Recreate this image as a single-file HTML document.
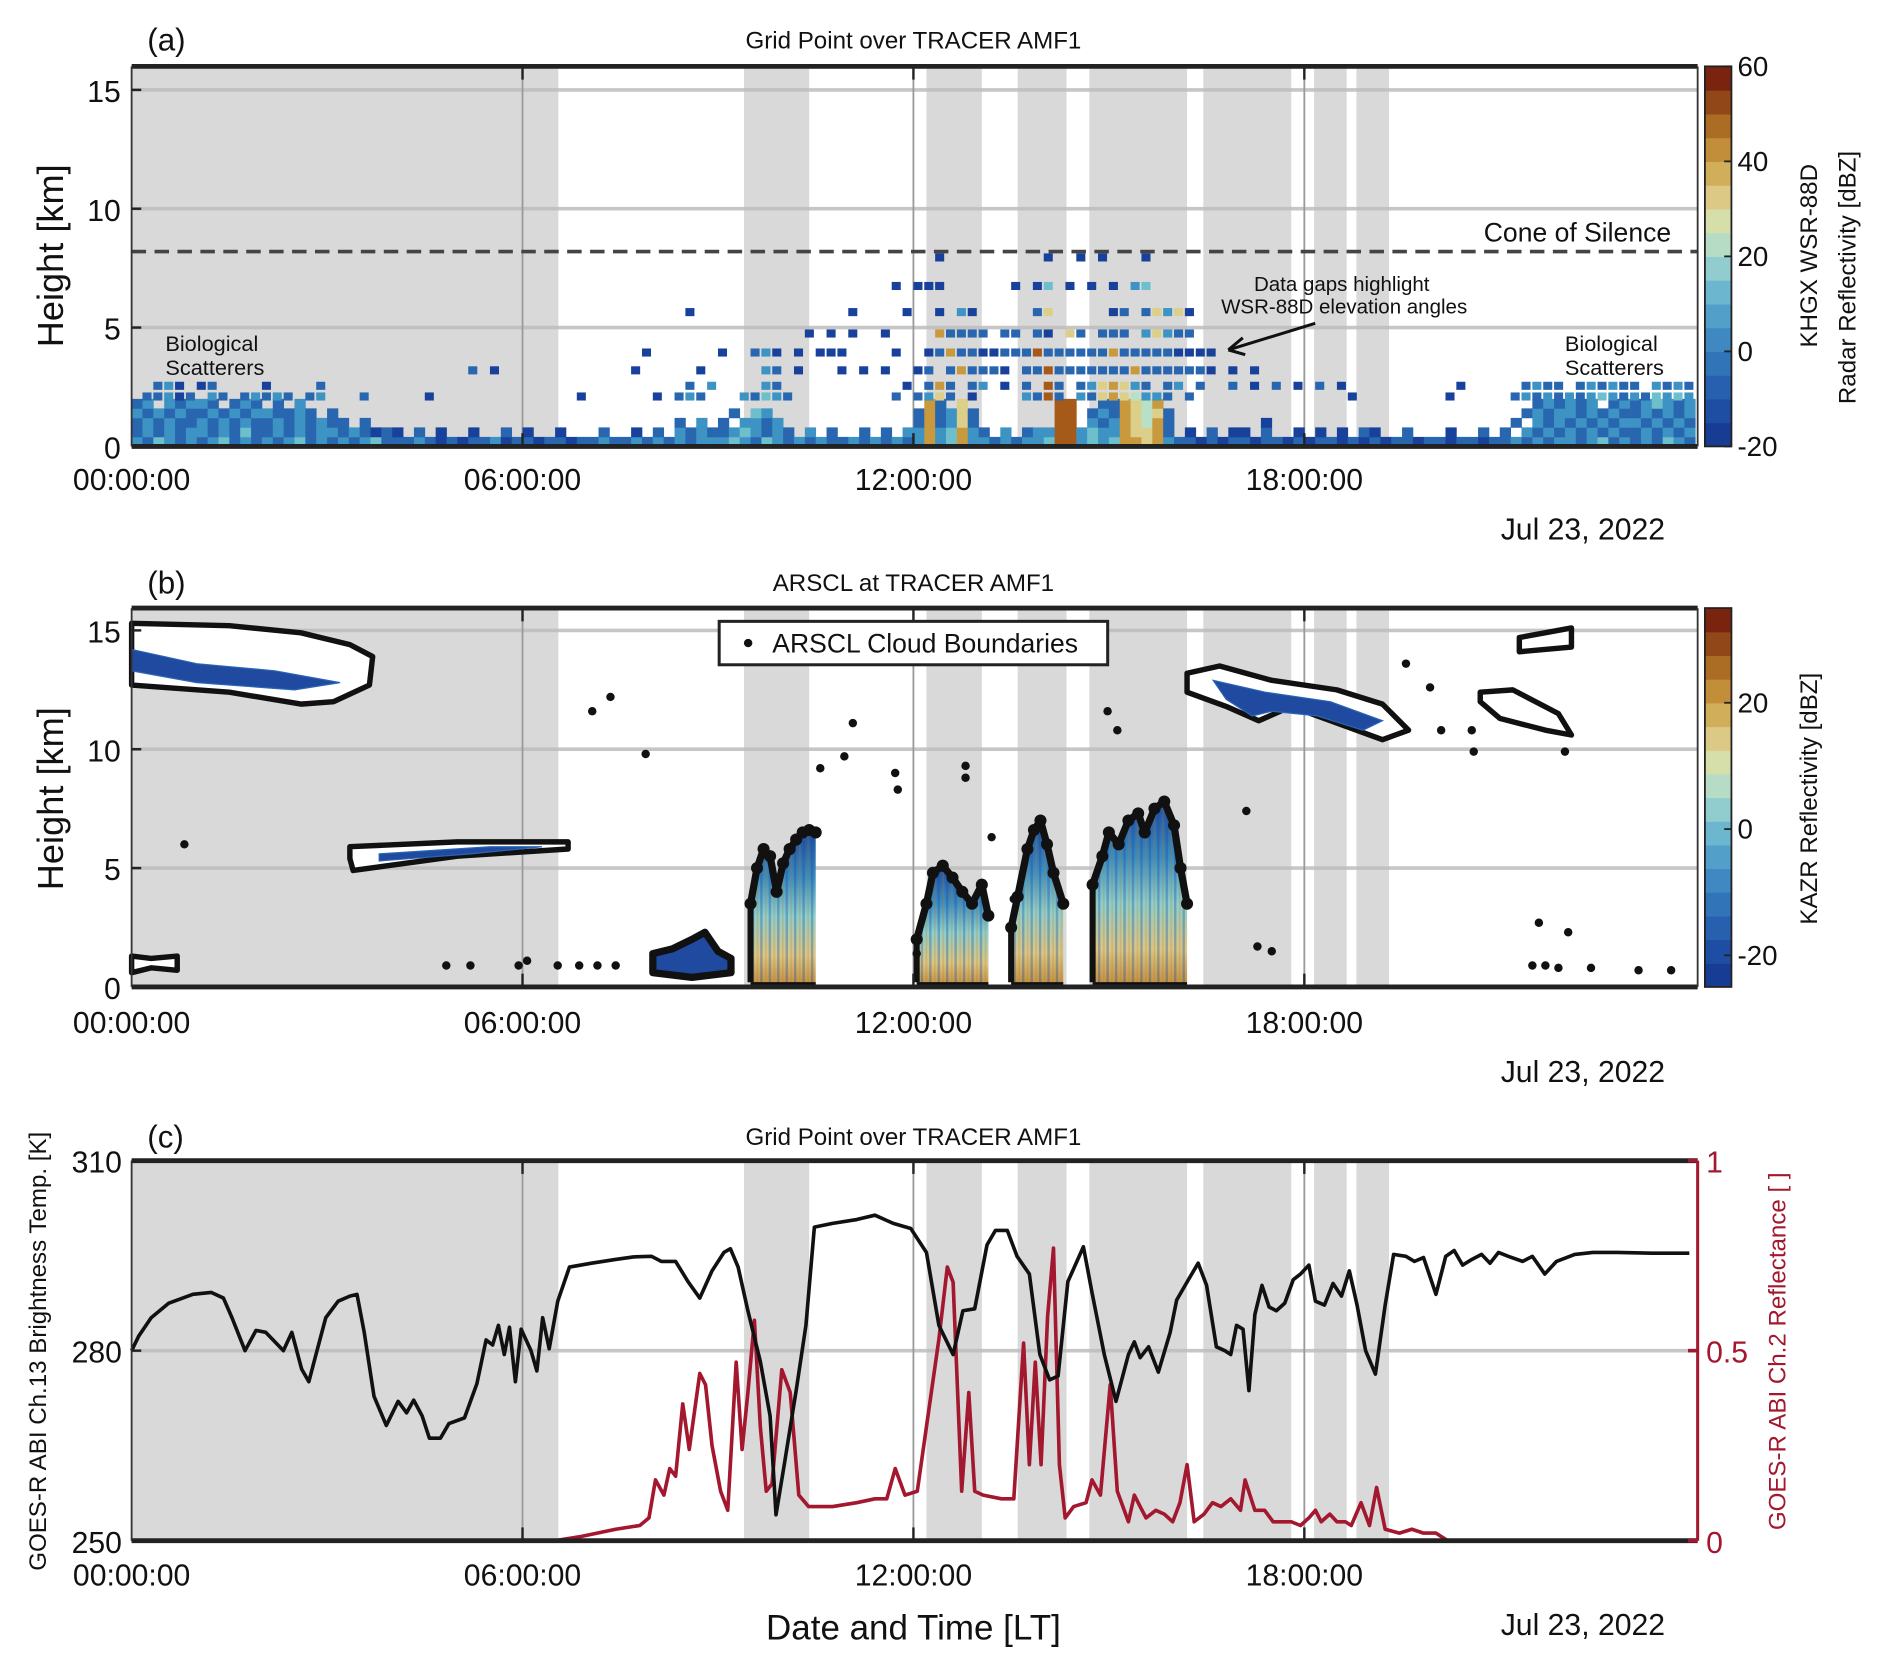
<!DOCTYPE html>
<html><head><meta charset="utf-8"><style>
html,body{margin:0;padding:0;background:#fff;}
svg{display:block;font-family:"Liberation Sans",sans-serif;}
</style></head><body>
<svg id="fig" xmlns="http://www.w3.org/2000/svg" width="1892" height="1671" viewBox="0 0 1568 1385">
<defs>
<linearGradient id="towerGrad" x1="0" y1="0" x2="0" y2="1">
<stop offset="0" stop-color="#1d4a9e"/><stop offset="0.3" stop-color="#3a8cc0"/><stop offset="0.55" stop-color="#8fd0cc"/><stop offset="0.8" stop-color="#dcc784"/><stop offset="1" stop-color="#c08a3a"/>
</linearGradient>
<pattern id="streaks" width="7" height="10" patternUnits="userSpaceOnUse">
<rect x="0" y="0" width="2" height="10" fill="#1d4a9e" opacity="0.35"/>
<rect x="4" y="0" width="1.5" height="10" fill="#b07a30" opacity="0.25"/>
</pattern>
</defs>
<g id="pa"></g>
<g id="pb"></g>
<g id="pc"></g>
</svg>
<script>
// ---------- shared data ----------
const shadeStart = [0, 9.4, 12.2, 13.6, 14.7, 16.45, 18.15, 18.8];
const shadeEnd   = [6.55, 10.4, 13.05, 14.35, 16.2, 17.8, 18.65, 19.3];
const timeTicks = [0, 6, 12, 18];
const timeTickLabels = ["00:00:00", "06:00:00", "12:00:00", "18:00:00"];
const heightTicks = [0, 5, 10, 15];
const cbarTicksA = [-20, 0, 20, 40, 60];
const cbarTicksB = [-20, 0, 20];

// Panel a ground clutter rows (0.4 km each), 10-min bins, letters a..i = -20..60 dBZ
const groundRowBottoms = [0, 0.4, 0.8, 1.2, 1.6];
const groundRows = [
"cbdcbc bcdbcb cbcdbc bcbcdb bbcbab abbcab babbab bcbbcb cbcbcc cdcbdc bcbcbb cbcbcb cgcdgc cbcbcc dhhcdc dggfgc bbabab babbab abbaba babbab babbab bcbcbc cbcdbc bcbdcb",
"bcbcbc cbcbdb bcbcbc cbcbab a.b.a. .a..b. a..a.. .b..a. b.cbcb bcdcbc b.c.b. .b.b.c cgcdgc b.c.bc chhcdc cgffgb .a.b.a a.b..a .a.a.b a..b.. .a..b. b.cbcb cbcbcb bcbcbc",
"bcbcbb cbcbcb bcbcbc bb.b.. ...... ...... ...... ...... ..b.c. b.ccbc ...... ...... bgbcfb ...... .hh.cb cgfegb ...... ..a... ...... ...... ...... .b.cbc bcbcbc cbcbcb",
"cbcbcb bcbcbc cbbcb. b..... ...... ...... ...... ...... ...... .b.dc. ...... ...... bgbcfb ...... .hh.bc bgfefb ...... ...... ...... ...... ...... ..bcbc cbcbcb bcbcbc",
"bc.cbc cb.bcb .b.c.. ...... ...... ...... ...... ...... ...... ...... ...... ...... .gb.f. ...... .hh..b bgfeg. ...... ...... ...... ...... ...... ...bcb cbc.bc bcdcbc"
];
// Elevated scan rows: height (km), segments [startBin, levels]
const elevHeights = [2.1, 2.55, 3.2, 3.95, 4.75, 5.65, 6.75, 7.95];
const elevSegs = [
 [[1,"bbcab.cb.bcbcb.bc"],[21,"b"],[27,"a"],[41,"a"],[48,"a.bcb"],[56,"cbdcb"],[70,"b.bcfb.a"],[82,"cbhb.cbfgfeccb.b"],[112,"a"],[121,"a"],[127,"bcbcbcbcdcbcbdcdc"]],
 [[2,"bca.ab"],[12,"a"],[17,"b"],[51,"b.c"],[58,"cb"],[71,"a.bgb.bc.a"],[82,"b.hb.bcfgfcb.bc.b"],[101,"b.a.b.a.b.a"],[122,"a"],[128,"bcbb.bcbcbb.cbcb"]],
 [[31,"b.a"],[46,"a"],[52,"a"],[58,"cb.a"],[65,"a.a.a"],[72,"ab.bgbbba.bbhbbbbbbbgbbbbbba.a.a"]],
 [[47,"a"],[54,"a"],[57,"bca"],[61,"a.aaa"],[70,"a"],[73,"abgbbaabbbhbbbbbbgbbbbbaaaa"]],
 [[62,"a.a.a..a"],[74,"gbbbb.bb.ba.fb.bbb.cfcbb"]],
 [[51,"a"],[66,"a"],[71,"a"],[74,"a.ca"],[83,"bf"],[90,"ab.bfcfa"]],
 [[70,"a.aaa"],[81,"a.a"],[84,"d.a.a.a.cd"]],
 [[74,"a"],[84,"a"],[87,"a.a"],[93,"a"]]
];

// Panel b: cloud contours (hour, km)
const cirrusA = [[0,15.3],[1.5,15.2],[2.6,14.9],[3.35,14.4],[3.7,13.9],[3.65,12.7],[3.1,12.0],[2.6,11.9],[1.5,12.4],[0,12.7]];
const cirrusAcore = [[0,14.2],[1,13.6],[2.2,13.3],[3.2,12.8],[2.5,12.5],[1,12.8],[0,13.3]];
const midCloud = [[3.35,5.9],[5,6.1],[6.7,6.1],[6.7,5.8],[5,5.5],[3.4,4.9],[3.35,5.4]];
const midCore = [[3.8,5.6],[5.5,5.9],[6.3,5.9],[5.2,5.6],[3.8,5.3]];
const cirrusB = [[16.2,13.2],[16.7,13.5],[17.5,12.9],[18.5,12.5],[19.2,11.9],[19.6,10.8],[19.2,10.4],[18.5,11.1],[17.8,11.8],[17.3,11.2],[16.8,11.8],[16.2,12.4]];
const cirrusBcore = [[16.6,12.9],[17.4,12.4],[18.4,12.0],[19.2,11.2],[18.9,10.8],[18.2,11.4],[17.5,11.6],[17.2,11.4],[16.8,12.1]];
const cirrusC = [[20.7,12.4],[21.2,12.5],[21.9,11.5],[22.1,10.6],[21.7,10.8],[21.0,11.3],[20.7,12.0]];
const cirrusD = [[21.3,14.7],[22.1,15.1],[22.1,14.3],[21.3,14.1]];
const lowCloud = [[0,0.6],[0,1.3],[0.3,1.2],[0.7,1.3],[0.7,0.7],[0.3,0.8]];
const shallowCloud = [[8.0,0.6],[8.0,1.4],[8.3,1.6],[8.6,2.0],[8.8,2.3],[9.0,1.5],[9.2,1.2],[9.2,0.6],[8.6,0.4]];
// convective towers: tops (hour, km)
const towerA = [[9.5,3.5],[9.6,5.0],[9.7,5.8],[9.8,5.5],[9.9,4.0],[10.0,5.2],[10.1,5.8],[10.2,6.2],[10.3,6.5],[10.4,6.6],[10.5,6.5]];
const towerB = [[12.05,2.0],[12.2,3.5],[12.3,4.8],[12.45,5.1],[12.6,4.6],[12.75,4.0],[12.9,3.5],[13.05,4.3],[13.15,3.0]];
const towerC = [[13.5,2.5],[13.6,3.8],[13.75,5.8],[13.85,6.6],[13.95,7.0],[14.05,6.0],[14.15,4.8],[14.3,3.5]];
const towerD = [[14.75,4.3],[14.9,5.5],[15.0,6.5],[15.15,6.0],[15.3,7.0],[15.45,7.3],[15.55,6.5],[15.7,7.5],[15.85,7.8],[16.0,6.8],[16.1,5.0],[16.2,3.5]];
const dotHours = [0.81,7.07,7.35,7.89,10.57,11.07,10.94,11.72,11.76,12.8,12.8,13.2,14.98,15.13,17.11,17.28,19.56,19.93,20.1,20.57,20.6,22.0,21.6,22.05,23.13,23.63,4.83,5.2,5.94,6.07,6.54,6.87,7.15,7.43,12.05,13.54,21.5,17.5,21.7,21.9,22.4];
const dotKm    = [6.0,11.6,12.2,9.8,9.2,11.1,9.7,9.0,8.3,9.3,8.8,6.3,11.6,10.8,7.4,1.7,13.6,12.6,10.8,10.8,9.9,9.9,2.7,2.3,0.7,0.7,0.9,0.9,0.9,1.1,0.9,0.9,0.9,0.9,1.4,3.7,0.9,1.5,0.9,0.8,0.8];

// Panel c series
const tbHours = [0,0.11,0.30,0.57,0.94,1.22,1.41,1.54,1.74,1.91,2.06,2.20,2.33,2.46,2.61,2.72,2.83,2.98,3.17,3.35,3.46,3.57,3.72,3.91,4.09,4.22,4.33,4.46,4.57,4.74,4.87,5.11,5.30,5.44,5.54,5.63,5.72,5.80,5.89,5.98,6.13,6.22,6.31,6.41,6.54,6.72,7.06,7.43,7.70,7.98,8.13,8.35,8.54,8.72,8.91,9.09,9.19,9.31,9.46,9.65,9.80,9.89,10.02,10.20,10.35,10.48,10.76,11.13,11.41,11.69,11.96,12.20,12.39,12.61,12.76,12.94,13.13,13.26,13.44,13.59,13.78,13.94,14.09,14.22,14.37,14.61,14.74,14.93,15.11,15.30,15.39,15.48,15.61,15.76,15.94,16.04,16.22,16.37,16.50,16.65,16.78,16.87,16.96,17.06,17.15,17.24,17.35,17.46,17.57,17.70,17.83,17.94,18.07,18.17,18.31,18.44,18.57,18.69,18.81,18.94,19.09,19.24,19.37,19.56,19.69,19.83,20.02,20.17,20.30,20.43,20.57,20.72,20.85,20.98,21.13,21.35,21.50,21.69,21.87,22.15,22.43,22.80,23.35,23.91];
const tbValues = [280.0,282.3,285.2,287.5,288.9,289.2,288.3,285.2,280.0,283.2,282.9,281.4,280.0,282.9,277.1,275.1,279.4,285.2,287.8,288.6,288.9,282.9,272.8,268.2,272.0,270.2,272.2,269.7,266.2,266.2,268.5,269.4,274.8,281.7,280.9,284.0,279.4,283.7,275.1,283.4,280.0,276.8,285.2,280.3,287.8,293.2,293.8,294.4,294.8,294.9,294.1,294.1,290.9,288.3,292.6,295.5,296.1,293.2,286.3,278.3,269.7,254.1,262.2,273.7,284.0,299.5,300.1,300.7,301.4,300.1,299.3,295.5,284.0,279.4,286.3,286.6,296.7,299.0,299.0,294.9,292.1,279.4,275.4,276.0,290.9,296.4,289.2,279.4,272.0,279.4,281.4,278.9,280.6,276.6,282.9,288.0,291.2,293.8,290.3,280.6,280.0,279.4,284.0,283.4,273.7,285.7,290.3,286.9,286.3,287.5,291.2,292.1,293.5,287.8,287.2,290.6,288.6,292.6,287.2,280.0,276.3,287.2,295.2,294.9,294.1,294.7,288.9,294.9,295.8,293.5,294.4,295.2,293.8,295.5,294.9,294.1,294.9,292.1,294.1,295.2,295.5,295.5,295.4,295.4];
const rfHours = [0,6.50,6.87,7.43,7.80,7.94,8.04,8.17,8.26,8.35,8.46,8.56,8.72,8.81,8.91,9.04,9.15,9.28,9.37,9.46,9.56,9.65,9.74,9.83,9.98,10.11,10.24,10.39,10.76,11.13,11.41,11.59,11.72,11.87,12.06,12.20,12.39,12.52,12.61,12.74,12.85,12.94,13.07,13.35,13.54,13.69,13.78,13.87,13.96,14.06,14.15,14.24,14.33,14.46,14.65,14.74,14.87,15.02,15.13,15.30,15.39,15.48,15.57,15.72,15.85,15.98,16.09,16.20,16.31,16.46,16.59,16.72,16.87,17.02,17.09,17.24,17.39,17.52,17.65,17.80,17.94,18.07,18.17,18.26,18.39,18.50,18.63,18.72,18.87,19.00,19.11,19.24,19.46,19.65,19.83,20.02,20.20,21.13,23.91];
const rfValues = [0.00,0.00,0.01,0.03,0.04,0.06,0.16,0.12,0.19,0.17,0.36,0.24,0.44,0.41,0.25,0.13,0.08,0.47,0.24,0.39,0.58,0.30,0.13,0.15,0.45,0.39,0.12,0.09,0.09,0.10,0.11,0.11,0.19,0.12,0.13,0.30,0.53,0.72,0.68,0.13,0.39,0.13,0.12,0.11,0.11,0.52,0.20,0.47,0.20,0.59,0.77,0.20,0.06,0.09,0.10,0.16,0.12,0.41,0.13,0.05,0.12,0.09,0.06,0.08,0.07,0.05,0.10,0.20,0.05,0.07,0.10,0.09,0.11,0.08,0.16,0.08,0.08,0.05,0.05,0.05,0.04,0.06,0.08,0.05,0.07,0.05,0.05,0.04,0.10,0.04,0.14,0.03,0.02,0.03,0.02,0.02,0.00,0.00,0.00];
const tbTicks = [250, 280, 310];
const rfTicks = [0, 0.5, 1];
const rfTickLabels = ["0", "0.5", "1"];

// ---------- helpers ----------
const NS = "http://www.w3.org/2000/svg";
function el(tag, parent, attrs) {
  const e = document.createElementNS(NS, tag);
  for (const k in attrs) e.setAttribute(k, attrs[k]);
  parent.appendChild(e);
  return e;
}
const X0 = 109, X1 = 1407, PXH = 54;
const X = h => X0 + h * PXH;
const levelColors = {a:"#17419a",b:"#2866b0",c:"#3d93c3",d:"#6ebfcc",e:"#b8e0c4",f:"#dccf8a",g:"#c9993e",h:"#a65a1a",i:"#7a1e0a"};
const cbColors = ["#163c94","#1d4ea3","#2660ae","#3274b8","#3f88c1","#52a0ca","#6cb7cf","#91cccf","#b7dcc6","#d6deaa","#dcc985","#d1ae5a","#c28e3a","#ab6c24","#924719","#7a2410"];

function txt(parent, x, y, s, size, anchor, extra) {
  const t = el("text", parent, Object.assign({x:x, y:y, "font-size":size, "text-anchor":anchor || "middle", fill:"#111"}, extra || {}));
  t.textContent = s;
  return t;
}

function shading(g, yTop, yBot) {
  for (let i = 0; i < shadeStart.length; i++) {
    const r = el("rect", g, {x:X(shadeStart[i]), y:yTop, width:X(shadeEnd[i]) - X(shadeStart[i]), height:yBot - yTop, fill:"#d9d9d9"});
    
    
  }
}
function hgrid(g, ys) {
  ys.forEach(y => {
    const l = el("line", g, {x1:X0, x2:X1, y1:y, y2:y, stroke:"#bdbdbd", "stroke-width":3, opacity:0.85});
    
    
  });
}
function vgrid(g, yTop, yBot) {
  timeTicks.slice(1).forEach(h => {
    const l = el("line", g, {x1:X(h), x2:X(h), y1:yTop, y2:yBot, stroke:"#9a9a9a", "stroke-width":1.5});
    
    
  });
}
function frame(g, yTop, yBot, rightColor) {
  const f = el("g", g, {});
  
  
  el("line", f, {x1:X0, x2:X1, y1:yTop, y2:yTop, stroke:"#222", "stroke-width":4});
  el("line", f, {x1:X0, x2:X1, y1:yBot, y2:yBot, stroke:"#222", "stroke-width":4});
  el("line", f, {x1:X0, x2:X0, y1:yTop, y2:yBot, stroke:"#333", "stroke-width":1.5});
  el("line", f, {x1:X1, x2:X1, y1:yTop, y2:yBot, stroke:rightColor || "#333", "stroke-width":rightColor ? 2.5 : 1.5});
  timeTicks.slice(1).forEach(h => {
    el("line", f, {x1:X(h), x2:X(h), y1:yTop, y2:yTop + 11, stroke:"#222", "stroke-width":2});
    el("line", f, {x1:X(h), x2:X(h), y1:yBot, y2:yBot - 11, stroke:"#222", "stroke-width":2});
  });
}
function xLabels(g, y) {
  timeTicks.forEach((h, i) => {
    const t = txt(g, X(h), y, timeTickLabels[i], 25);
    
    
  });
}
function colorbar(g, yTop, yBot, vmin, vmax, ticks, label) {
  const cb = el("g", g, {});
  
  
  const n = cbColors.length, hh = (yBot - yTop) / n;
  cbColors.forEach((c, i) => el("rect", cb, {x:1413, y:yBot - (i + 1) * hh, width:22, height:hh + 0.5, fill:c}));
  el("rect", cb, {x:1413, y:yTop, width:22, height:yBot - yTop, fill:"none", stroke:"#222", "stroke-width":1.5});
  const Yc = v => yBot - (v - vmin) / (vmax - vmin) * (yBot - yTop);
  ticks.forEach(v => {
    el("line", cb, {x1:1429, x2:1435, y1:Yc(v), y2:Yc(v), stroke:"#222", "stroke-width":1.5});
    const t = txt(cb, 1440, Yc(v) + 8, String(v), 23, "start");
    
    
  });
  return cb;
}

// ---------- Panel A ----------
(function(){
  const g = document.getElementById("pa");
  const T = 55, B = 370, K = 19.7;
  const Y = km => B - km * K;
  shading(g, T, B);
  hgrid(g, [Y(5), Y(10), Y(15)]);
  vgrid(g, T, B);
  const binW = PXH / 6;
  groundRows.forEach((row, r) => {
    const s = row.replace(/ /g, "");
    for (let i = 0; i < s.length; i++) {
      const c = s[i];
      if (c === ".") continue;
      const cell = el("rect", g, {x:X(i / 6), y:Y(groundRowBottoms[r] + 0.4), width:binW + 0.3, height:0.4 * K + 0.3, fill:levelColors[c]});
      
      
    }
  });
  elevHeights.forEach((hkm, r) => {
    elevSegs[r].forEach(seg => {
      const s = seg[1];
      for (let j = 0; j < s.length; j++) {
        const c = s[j];
        if (c === ".") continue;
        const cell = el("rect", g, {x:X((seg[0] + j) / 6), y:Y(hkm + 0.17), width:binW - 1.5, height:0.34 * K, fill:levelColors[c]});
        
        
      }
    });
  });
  const cone = el("line", g, {x1:X0, x2:X1, y1:Y(8.2), y2:Y(8.2), stroke:"#444", "stroke-width":3, "stroke-dasharray":"12 7"});
  
  
  let t = txt(g, 1385, 200, "Cone of Silence", 22, "end");
   
  t = txt(g, 1112, 241, "Data gaps highlight", 17);
   
  t = txt(g, 1114, 260, "WSR-88D elevation angles", 17);
   
  const ar = el("path", g, {d:"M1090 268 L1018 290 M1018 290 L1030 280 M1018 290 L1032 294", stroke:"#111", "stroke-width":2.5, fill:"none"});
   
  [["Biological",137,291],["Scatterers",137,311],["Biological",1297,291],["Scatterers",1297,311]].forEach(a => {
    const b = txt(g, a[1], a[2], a[0], 18, "start");
     
  });
  frame(g, T, B);
  heightTicks.forEach(v => {
    el("line", g, {x1:X0, x2:X0 + 8, y1:Y(v), y2:Y(v), stroke:"#222", "stroke-width":2});
    const l = txt(g, 100, Y(v) + 10, String(v), 25, "end");
     
  });
  t = txt(g, 0, 0, "Height [km]", 30, "middle", {transform:"translate(52 212) rotate(-90)"});
   
  t = txt(g, 757, 40, "Grid Point over TRACER AMF1", 20);
   
  t = txt(g, 122, 42, "(a)", 26, "start");
   
  xLabels(g, 406);
  t = txt(g, 1380, 447, "Jul 23, 2022", 25, "end");
   
  colorbar(g, T, B, -20, 60, cbarTicksA);
  t = txt(g, 0, 0, "KHGX WSR-88D", 20, "middle", {transform:"translate(1506 212) rotate(-90)"});
   
  t = txt(g, 0, 0, "Radar Reflectivity [dBZ]", 20, "middle", {transform:"translate(1538 230) rotate(-90)"});
   
})();

// ---------- Panel B ----------
(function(){
  const g = document.getElementById("pb");
  const T = 504, B = 818, K = 19.7;
  const Y = km => B - km * K;
  shading(g, T, B);
  hgrid(g, [Y(5), Y(10), Y(15)]);
  vgrid(g, T, B);
  const pts = arr => arr.map(p => X(p[0]).toFixed(1) + "," + Y(p[1]).toFixed(1)).join(" ");
  function cloud(outline, core, name) {
    const o = el("polygon", g, {points:pts(outline), fill:"#ffffff", stroke:"#111", "stroke-width":4.5, "stroke-linejoin":"round"});
    
    
    if (core) {
      const c = el("polygon", g, {points:pts(core), fill:"#1f4aa0", stroke:"#2a66b5", "stroke-width":1});
      
      
    }
  }
  cloud(cirrusA, cirrusAcore, "cirrus-cloud-early");
  cloud(midCloud, midCore, "midlevel-cloud");
  cloud(cirrusB, cirrusBcore, "cirrus-cloud-evening");
  cloud(cirrusC, null, "cirrus-cloud-late");
  cloud(cirrusD, null, "cirrus-cloud-high");
  cloud(lowCloud, null, "low-cloud");
  const sh = el("polygon", g, {points:pts(shallowCloud), fill:"#1f4aa0", stroke:"#111", "stroke-width":6, "stroke-linejoin":"round"});
  
  
  [towerA, towerB, towerC, towerD].forEach((tw, k) => {
    const poly = [[tw[0][0], 0]].concat(tw).concat([[tw[tw.length - 1][0], 0]]);
    const p = el("polygon", g, {points:pts(poly), fill:"url(#towerGrad)", stroke:"none"});
    
    
    const st = el("polygon", g, {points:pts(poly), fill:"url(#streaks)", stroke:"none"});
    
    
    const top = el("polyline", g, {points:pts(tw), fill:"none", stroke:"#111", "stroke-width":6, "stroke-linejoin":"round", "stroke-linecap":"round"});
    
    
    tw.forEach(pt => {
      const c = el("circle", g, {cx:X(pt[0]), cy:Y(pt[1]), r:5, fill:"#111"});
      
      
    });
    const side = el("polyline", g, {points:pts([[tw[0][0], 0.2], tw[0]]), fill:"none", stroke:"#111", "stroke-width":5});
    
    
    const base = el("line", g, {x1:X(tw[0][0]), x2:X(tw[tw.length - 1][0]), y1:Y(0.1), y2:Y(0.1), stroke:"#111", "stroke-width":4});
    
    
  });
  dotHours.forEach((h, i) => {
    const d = el("circle", g, {cx:X(h), cy:Y(dotKm[i]), r:3.5, fill:"#111"});
    
    
  });
  frame(g, T, B);
  heightTicks.forEach(v => {
    el("line", g, {x1:X0, x2:X0 + 8, y1:Y(v), y2:Y(v), stroke:"#222", "stroke-width":2});
    const l = txt(g, 100, Y(v) + 10, String(v), 25, "end");
     
  });
  let t = txt(g, 0, 0, "Height [km]", 30, "middle", {transform:"translate(52 662) rotate(-90)"});
   
  t = txt(g, 757, 490, "ARSCL at TRACER AMF1", 20);
   
  t = txt(g, 122, 492, "(b)", 26, "start");
   
  const lg = el("g", g, {});
  
  
  el("rect", lg, {x:596, y:515, width:322, height:36, fill:"#fff", stroke:"#222", "stroke-width":2.5});
  el("circle", lg, {cx:620, cy:533, r:3.5, fill:"#111"});
  t = txt(lg, 640, 541, "ARSCL Cloud Boundaries", 22, "start");
   
  xLabels(g, 856);
  t = txt(g, 1380, 897, "Jul 23, 2022", 25, "end");
   
  colorbar(g, T, B, -25, 35, cbarTicksB);
  t = txt(g, 0, 0, "KAZR Reflectivity [dBZ]", 20, "middle", {transform:"translate(1506 662) rotate(-90)"});
   
})();

// ---------- Panel C ----------
(function(){
  const g = document.getElementById("pc");
  const T = 962, B = 1277;
  const Yt = v => B - (v - 250) / 60 * (B - T);
  const Yr = v => B - v * (B - T);
  shading(g, T, B);
  hgrid(g, [Yt(280)]);
  vgrid(g, T, B);
  const rf = el("polyline", g, {points:rfHours.map((h, i) => X(h).toFixed(1) + "," + Yr(rfValues[i]).toFixed(1)).join(" "), fill:"none", stroke:"#a3172f", "stroke-width":3, "stroke-linejoin":"round"});
  
  
  const tb = el("polyline", g, {points:tbHours.map((h, i) => X(h).toFixed(1) + "," + Yt(tbValues[i]).toFixed(1)).join(" "), fill:"none", stroke:"#111", "stroke-width":3, "stroke-linejoin":"round"});
  
  
  frame(g, T, B, "#a3172f");
  tbTicks.forEach(v => {
    el("line", g, {x1:X0, x2:X0 + 8, y1:Yt(v), y2:Yt(v), stroke:"#222", "stroke-width":2});
    const l = txt(g, 101, Yt(v) + 10, String(v), 25, "end");
     
  });
  rfTicks.forEach((v, i) => {
    el("line", g, {x1:X1 - 8, x2:X1, y1:Yr(v), y2:Yr(v), stroke:"#a3172f", "stroke-width":3});
    const l = txt(g, 1414, Yr(v) + 10, rfTickLabels[i], 25, "start", {fill:"#a3172f"});
     
  });
  let t = txt(g, 0, 0, "GOES-R ABI Ch.13 Brightness Temp. [K]", 20, "middle", {transform:"translate(38 1120) rotate(-90)"});
   
  t = txt(g, 0, 0, "GOES-R ABI Ch.2 Reflectance [ ]", 20, "middle", {transform:"translate(1480 1120) rotate(-90)", fill:"#a3172f"});
   
  t = txt(g, 757, 949, "Grid Point over TRACER AMF1", 20);
   
  t = txt(g, 122, 951, "(c)", 26, "start");
   
  xLabels(g, 1314);
  t = txt(g, 757, 1359, "Date and Time [LT]", 29);
   
  t = txt(g, 1380, 1355, "Jul 23, 2022", 25, "end");
   
})();
</script>
</body></html>
